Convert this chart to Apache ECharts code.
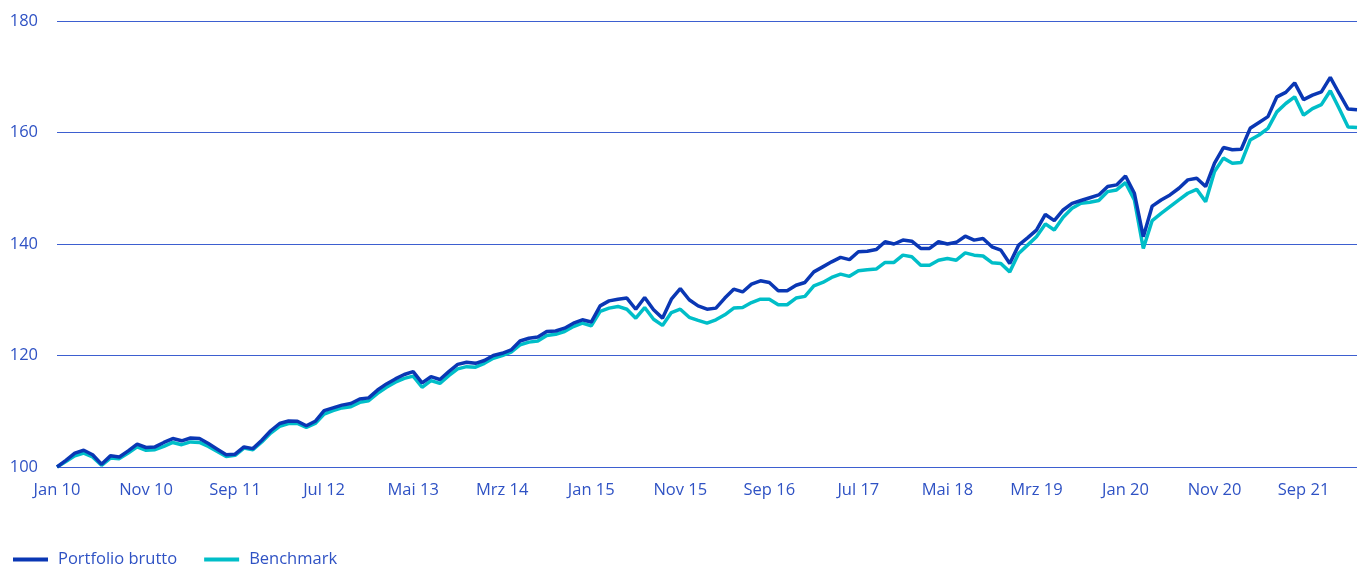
<!DOCTYPE html>
<html>
<head>
<meta charset="utf-8">
<script src="https://cdn.jsdelivr.net/npm/echarts@6/dist/echarts.min.js"></script>
<style>
  html, body { margin: 0; padding: 0; background: #fff; }
  #chart { width: 1363px; height: 569px; }
</style>
</head>
<body>
<div id="chart"></div>
<script>
// Monatswerte Jan 10 - Mrz 22 (indexiert, Start = 100)
var monthNames = ['Jan', 'Feb', 'Mrz', 'Apr', 'Mai', 'Jun', 'Jul', 'Aug', 'Sep', 'Okt', 'Nov', 'Dez'];
var startYear = 2010;
var monthCount = 147;

var portfolio = [
	100, 101.2, 102.5, 103.0, 102.2, 100.5, 102.0, 101.8, 102.9, 104.1,
	103.5, 103.6, 104.4, 105.1, 104.7, 105.2, 105.1, 104.2, 103.2, 102.2,
	102.3, 103.6, 103.3, 104.8, 106.5, 107.8, 108.25, 108.2, 107.4, 108.2,
	110.1, 110.6, 111.1, 111.4, 112.2, 112.4, 113.8, 114.9, 115.8, 116.6,
	117.1, 115.1, 116.2, 115.7, 117.1, 118.4, 118.8, 118.6, 119.1, 120.0,
	120.4, 121.0, 122.6, 123.1, 123.3, 124.3, 124.4, 124.9, 125.8, 126.4,
	126.0, 128.9, 129.8, 130.1, 130.3, 128.3, 130.4, 128.2, 126.7, 130.1,
	132.0, 130.0, 128.9, 128.3, 128.5, 130.3, 131.9, 131.4, 132.8, 133.4,
	133.1, 131.6, 131.6, 132.6, 133.1, 135.0, 135.9, 136.8, 137.6, 137.2,
	138.6, 138.7, 139.0, 140.4, 140.0, 140.7, 140.5, 139.2, 139.2, 140.4,
	140.0, 140.3, 141.4, 140.7, 141.0, 139.5, 138.9, 136.5, 139.8, 141.1,
	142.5, 145.3, 144.2, 146.1, 147.3, 147.8, 148.3, 148.8, 150.3, 150.6,
	152.2, 149.1, 141.3, 146.8, 147.9, 148.8, 150.0, 151.5, 151.8, 150.3,
	154.5, 157.3, 156.9, 157.0, 160.75, 161.8, 162.85, 166.4, 167.2, 168.9,
	165.9, 166.7, 167.3, 169.9, 167.0, 164.2, 164.1
];

var benchmark = [
	100, 101.0, 102.0, 102.5, 101.8, 100.3, 101.6, 101.5, 102.5, 103.6,
	103.0, 103.1, 103.7, 104.4, 104.0, 104.5, 104.4, 103.7, 102.8, 101.9,
	102.1, 103.4, 103.1, 104.5, 106.1, 107.3, 107.8, 107.8, 107.1, 107.8,
	109.5, 110.1, 110.6, 110.8, 111.6, 111.9, 113.2, 114.3, 115.2, 115.9,
	116.3, 114.3, 115.5, 115.0, 116.4, 117.6, 118.0, 117.9, 118.6, 119.5,
	120.0, 120.6, 121.9, 122.4, 122.6, 123.6, 123.8, 124.3, 125.2, 125.8,
	125.3, 127.9, 128.5, 128.8, 128.3, 126.7, 128.6, 126.5, 125.4, 127.7,
	128.3, 126.85, 126.3, 125.8, 126.4, 127.3, 128.5, 128.6, 129.5, 130.1,
	130.1, 129.1, 129.1, 130.3, 130.6, 132.5, 133.1, 134.0, 134.6, 134.2,
	135.2, 135.4, 135.5, 136.7, 136.7, 138.0, 137.7, 136.2, 136.2, 137.1,
	137.4, 137.1, 138.4, 138.0, 137.85, 136.65, 136.5, 135.0, 138.3, 139.8,
	141.3, 143.6, 142.5, 144.8, 146.4, 147.3, 147.5, 147.8, 149.4, 149.7,
	151.0, 147.9, 139.2, 144.2, 145.5, 146.7, 147.9, 149.1, 149.8, 147.6,
	153.0, 155.4, 154.5, 154.6, 158.65, 159.55, 160.75, 163.7, 165.2, 166.4,
	163.1, 164.3, 165.0, 167.5, 164.3, 161.0, 160.9
];

var yTicks = { min: 100, max: 180, step: 20 };

var textColor = '#2f52c4';
var gridColor = '#3d5fd0';
var colorArr = ['#0a37b4', '#00bec8'];

function buildCategories() {
	var cats = [];
	for (var i = 0; i < monthCount; i++) {
		var y = startYear + Math.floor(i / 12);
		cats.push(monthNames[i % 12] + ' ' + String(y).substr(2));
	}
	return cats;
}

var categories = buildCategories();

var chart = echarts.init(document.getElementById('chart'));

var option = {
	animation: false,
	color: colorArr,
	textStyle: {
		fontFamily: 'Open Sans'
	},
	grid: {
		left: 57,
		right: 6,
		top: 21,
		bottom: 102,
		containLabel: false
	},
	legend: {
		left: 13,
		top: 551,
		padding: 0,
		itemWidth: 35,
		itemHeight: 4,
		itemGap: 27,
		icon: 'rect',
		textStyle: {
			color: textColor,
			fontSize: 16.5,
			fontFamily: 'Open Sans',
			padding: [0, 0, 0, 5]
		},
		data: ['Portfolio brutto', 'Benchmark']
	},
	xAxis: {
		type: 'category',
		data: categories,
		boundaryGap: false,
		axisLine: { show: false },
		axisTick: { show: false },
		axisLabel: {
			interval: 9,
			color: textColor,
			fontSize: 16.5,
			margin: 15
		},
		splitLine: { show: false }
	},
	yAxis: {
		type: 'value',
		min: yTicks.min,
		max: yTicks.max,
		interval: yTicks.step,
		axisLine: { show: false },
		axisTick: { show: false },
		axisLabel: {
			color: textColor,
			fontSize: 16.5,
			margin: 19
		},
		splitLine: {
			lineStyle: { color: gridColor, width: 1 }
		}
	},
	series: [
		{
			name: 'Portfolio brutto',
			type: 'line',
			data: portfolio,
			showSymbol: false,
			symbol: 'none',
			z: 3,
			lineStyle: { width: 3.5, color: colorArr[0] }
		},
		{
			name: 'Benchmark',
			type: 'line',
			data: benchmark,
			showSymbol: false,
			symbol: 'none',
			z: 2,
			lineStyle: { width: 3.5, color: colorArr[1] }
		}
	]
};

chart.setOption(option);
</script>
</body>
</html>
